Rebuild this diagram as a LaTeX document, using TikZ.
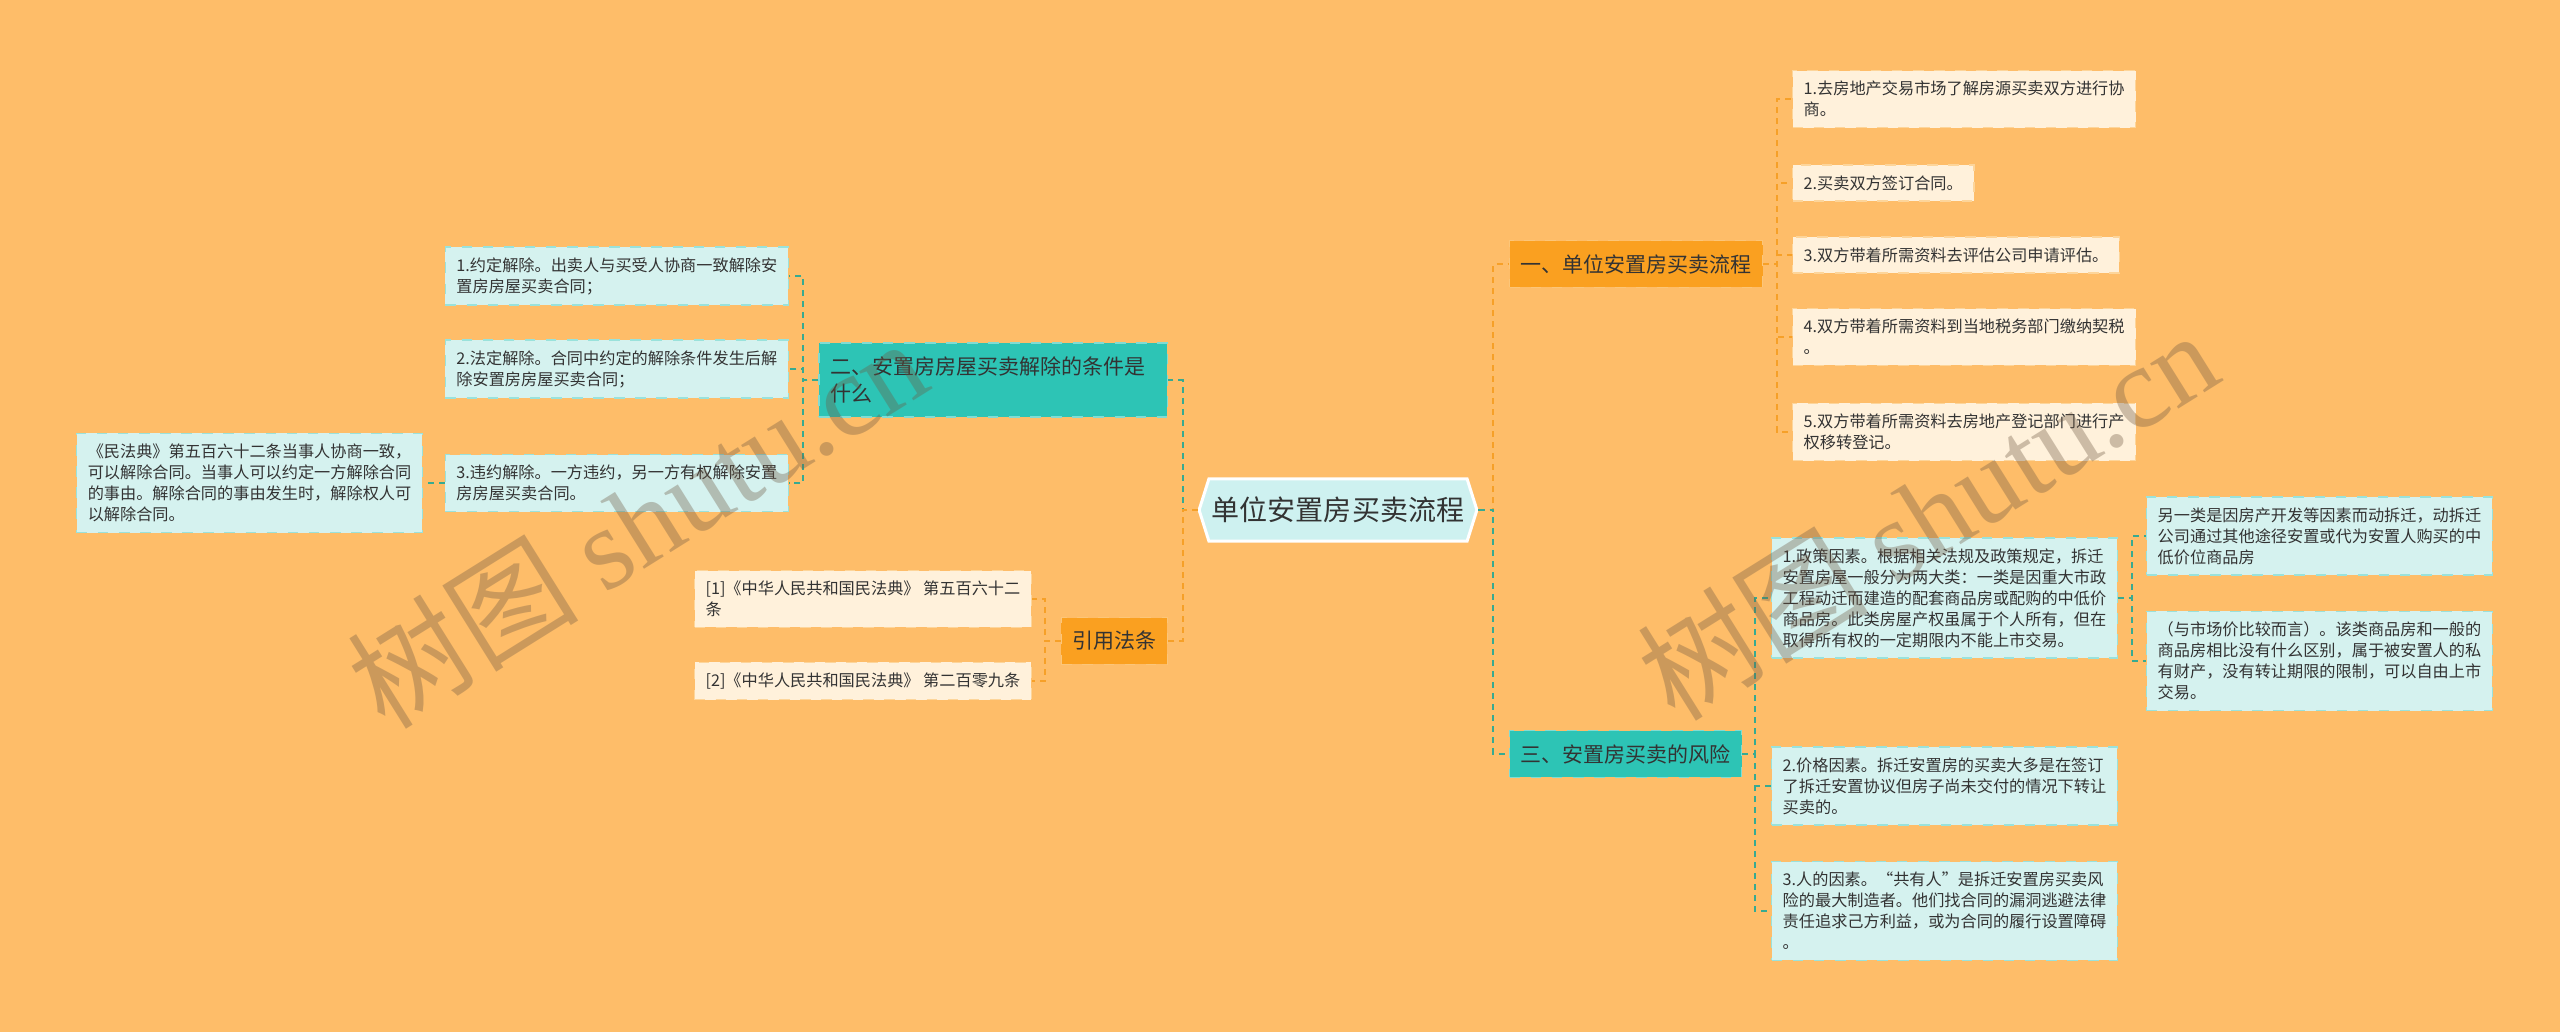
\documentclass[tikz,border=0pt]{standalone}
\usepackage{fontspec}
\setmainfont{Noto Sans CJK SC}
\newfontfamily\wmserif{Liberation Serif}
\usetikzlibrary{shapes.symbols}
\definecolor{bgorange}{RGB}{254,189,105}
\definecolor{brorange}{RGB}{250,160,32}
\definecolor{brteal}{RGB}{45,196,181}
\definecolor{lforange}{RGB}{255,241,219}
\definecolor{lfteal}{RGB}{213,242,239}
\definecolor{ctrfill}{RGB}{206,241,240}
\definecolor{lnorange}{RGB}{246,160,40}
\definecolor{lnteal}{RGB}{55,170,145}
\definecolor{txt}{RGB}{51,51,51}
\definecolor{wmark}{RGB}{110,88,66}

\begin{document}
\begin{tikzpicture}[x=0.01cm,y=-0.01cm]
	\tikzset{every node/.style={text=txt}}
	\tikzset{leaf/.style={rectangle,inner xsep=0.11cm,inner ysep=0.105cm,align=left,font=\fontsize{4.6}{5.97}\selectfont,draw,dashed,line width=0.4pt},
		oleaf/.style={leaf,fill=lforange,draw=brorange!35!lforange},
		tleaf/.style={leaf,fill=lfteal,draw=brteal!35!lfteal},
		branch/.style={rectangle,inner xsep=0.11cm,inner ysep=0.135cm,align=left,font=\fontsize{5.97}{7.9}\selectfont,draw,dashed,line width=0.4pt},
		obranch/.style={branch,fill=brorange,draw=brorange!60!white},
		tbranch/.style={branch,fill=brteal,draw=brteal!60!white},
		oline/.style={draw=lnorange,dash pattern=on 0.06cm off 0.05cm,line width=0.02cm},
		tline/.style={draw=lnteal,dash pattern=on 0.06cm off 0.05cm,line width=0.02cm},
		wm/.style={text=wmark,opacity=0.35,rotate=32,font=\fontsize{33}{33}\selectfont}}
	\useasboundingbox (0,0) rectangle (2560,1032);
	\fill[bgorange] (0,0) rectangle (2560,1032);
	
	\node[signal,signal to=west and east,signal pointer angle=145,fill=ctrfill,draw=white,line width=0.03cm,
		font=\fontsize{7.97}{9}\selectfont,inner xsep=0.03cm,inner ysep=0.18cm] (ctr) at (1338,510) {单位安置房买卖流程};
	
	\node[obranch,anchor=west] (b1) at (1509,264) {一、单位安置房买卖流程};
	\node[tbranch,anchor=west] (b3) at (1509,754) {三、安置房买卖的风险};
	\node[tbranch,anchor=east,text width=3.26cm] (b2) at (1168,380) {二、安置房房屋买卖解除的条件是\\什么};
	\node[obranch,anchor=east] (b4) at (1168,641) {引用法条};
	
	\node[oleaf,anchor=west] (o1) at (1792,99) {1.去房地产交易市场了解房源买卖双方进行协\\商。};
	\node[oleaf,anchor=west] (o2) at (1792,183) {2.买卖双方签订合同。};
	\node[oleaf,anchor=west] (o3) at (1792,255) {3.双方带着所需资料去评估公司申请评估。};
	\node[oleaf,anchor=west] (o4) at (1792,337) {4.双方带着所需资料到当地税务部门缴纳契税\\。};
	\node[oleaf,anchor=west] (o5) at (1792,432) {5.双方带着所需资料去房地产登记部门进行产\\权移转登记。};
	
	\node[tleaf,anchor=west] (r1) at (1771,598) {1.政策因素。根据相关法规及政策规定，拆迁\\安置房屋一般分为两大类：一类是因重大市政\\工程动迁而建造的配套商品房或配购的中低价\\商品房。此类房屋产权虽属于个人所有，但在\\取得所有权的一定期限内不能上市交易。};
	\node[tleaf,anchor=west] (r2) at (1771,786) {2.价格因素。拆迁安置房的买卖大多是在签订\\了拆迁安置协议但房子尚未交付的情况下转让\\买卖的。};
	\node[tleaf,anchor=west] (r3) at (1771,911) {3.人的因素。“共有人”是拆迁安置房买卖风\\险的最大制造者。他们找合同的漏洞逃避法律\\责任追求己方利益，或为合同的履行设置障碍\\。};
	\node[tleaf,anchor=west] (rr1) at (2146,536) {另一类是因房产开发等因素而动拆迁，动拆迁\\公司通过其他途径安置或代为安置人购买的中\\低价位商品房};
	\node[tleaf,anchor=west] (rr2) at (2146,661) {（与市场价比较而言）。该类商品房和一般的\\商品房相比没有什么区别，属于被安置人的私\\有财产，没有转让期限的限制，可以自由上市\\交易。};
	
	\node[tleaf,anchor=east] (l1) at (789,276) {1.约定解除。出卖人与买受人协商一致解除安\\置房房屋买卖合同；};
	\node[tleaf,anchor=east] (l2) at (789,369) {2.法定解除。合同中约定的解除条件发生后解\\除安置房房屋买卖合同；};
	\node[tleaf,anchor=east] (l3) at (789,483) {3.违约解除。一方违约，另一方有权解除安置\\房房屋买卖合同。};
	\node[tleaf,anchor=east] (fl) at (423,483) {《民法典》第五百六十二条当事人协商一致，\\可以解除合同。当事人可以约定一方解除合同\\的事由。解除合同的事由发生时，解除权人可\\以解除合同。};
	
	\node[oleaf,anchor=east] (c1) at (1032,599) {[1]《中华人民共和国民法典》 第五百六十二\\条};
	\node[oleaf,anchor=east] (c2) at (1032,681) {[2]《中华人民共和国民法典》 第二百零九条};
	
	\draw[tline] (ctr.west) -- ++(-15,0) |- (b2.east);
	\draw[oline] (ctr.west) -- ++(-15,0) |- (b4.east);
	\draw[oline] (ctr.east) -- ++(15,0) |- (b1.west);
	\draw[tline] (ctr.east) -- ++(15,0) |- (b3.west);
	\foreach \n in {o1,o2,o3,o4,o5}
		\draw[oline] (b1.east) -- ++(14,0) |- (\n.west);
	\foreach \n in {r1,r2,r3}
		\draw[tline] (b3.east) -- ++(13,0) |- (\n.west);
	\foreach \n in {rr1,rr2}
		\draw[tline] (r1.east) -- ++(14,0) |- (\n.west);
	\foreach \n in {l1,l2,l3}
		\draw[tline] (b2.west) -- ++(-15,0) |- (\n.east);
	\draw[tline] (l3.west) -- (fl.east);
	\foreach \n in {c1,c2}
		\draw[oline] (b4.west) -- ++(-16,0) |- (\n.east);
	
	\node[wm] (wm1) at (637,522) {树图 {\wmserif shutu.cn}};
	\node[wm] (wm2) at (1927,514) {树图 {\wmserif shutu.cn}};
\end{tikzpicture}
\end{document}
